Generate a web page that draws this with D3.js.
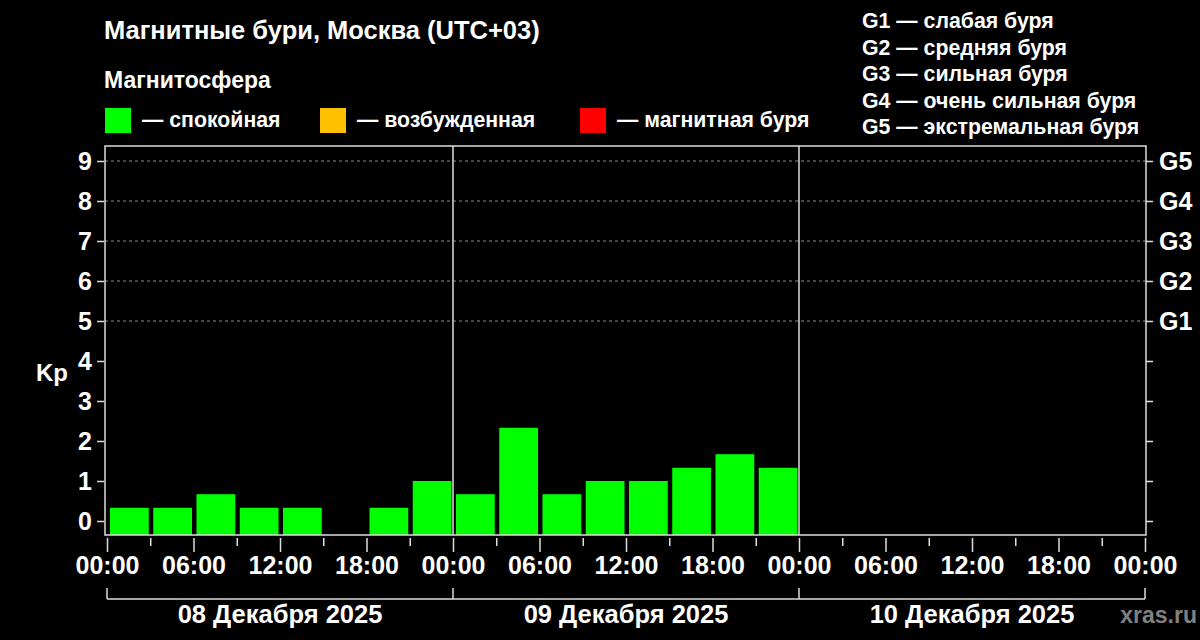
<!DOCTYPE html>
<html>
<head>
<meta charset="utf-8">
<script src="https://cdn.jsdelivr.net/npm/d3@7"></script>
<style>
  html, body { margin: 0; padding: 0; background: #000; }
  svg { display: block; font-family: "Liberation Sans", Arial, sans-serif; font-weight: bold; }
</style>
</head>
<body>
<div id="chart"></div>
<script>
// Kp by 3-hour slot, one array per day (null = no bar)
const days = ['08 Декабря 2025', '09 Декабря 2025', '10 Декабря 2025']
const kpDay1 = [0.33, 0.33, 0.67, 0.33, 0.33, null, 0.33, 1.0]
const kpDay2 = [0.67, 2.33, 0.67, 1.0, 1.0, 1.33, 1.67, 1.33]
const kpDay3 = [null, null, null, null, null, null, null, null]
const kpTicks = [0, 1, 2, 3, 4, 5, 6, 7, 8, 9]
const gLabels = ['G1', 'G2', 'G3', 'G4', 'G5']
const gLegend = ['G1 — слабая буря', 'G2 — средняя буря', 'G3 — сильная буря', 'G4 — очень сильная буря', 'G5 — экстремальная буря']
const states = ['— спокойная', '— возбужденная', '— магнитная буря']
const stateColors = ['#00ff00', '#ffc000', '#ff0000']
const hourTicks = d3.range(0, 73, 3)

const width = 1200, height = 640
const fLeft = 105, fRight = 1146, fTop = 146, fBottom = 535

const svg = d3.select('#chart').append('svg')
    .attr('width', width)
    .attr('height', height)

svg.append('rect').attr('width', width).attr('height', height).attr('fill', '#000')

const x = d3.scaleLinear().domain([0, 72]).range([107, 1145])
const y = d3.scaleLinear().domain([0, 9]).range([521, 161])

// titles
svg.append('text').attr('x', 104).attr('y', 39).attr('fill', '#fff')
    .style('font-size', '25.5px').text('Магнитные бури, Москва (UTC+03)')
svg.append('text').attr('x', 104).attr('y', 88).attr('fill', '#fff')
    .style('font-size', '23px').text('Магнитосфера')

// state legend
const legX = [105, 320, 580]
states.forEach((s, i) => {
    svg.append('rect').attr('x', legX[i]).attr('y', 108).attr('width', 26).attr('height', 25)
        .attr('fill', stateColors[i])
    svg.append('text').attr('x', legX[i] + 37).attr('y', 127).attr('fill', '#fff')
        .style('font-size', '21.3px').text(s)
})

// G legend
svg.append('g').selectAll('text').data(gLegend).enter().append('text')
    .attr('x', 862).attr('y', (d, i) => 28 + i * 26.5)
    .attr('fill', '#fff').style('font-size', '21.3px')
    .text(d => d)

// grid lines 5..9
svg.append('g').selectAll('line').data(kpTicks.filter(d => d >= 5)).enter().append('line')
    .attr('x1', fLeft).attr('x2', fRight)
    .attr('y1', d => y(d)).attr('y2', d => y(d))
    .attr('stroke', '#888').attr('stroke-width', 1).attr('stroke-dasharray', '3,3')

// bars
const all = [].concat(kpDay1, kpDay2, kpDay3)
const slotW = x(3) - x(0)
svg.append('g').selectAll('rect')
    .data(all.map((v, i) => ({v, i})).filter(d => d.v !== null && d.v > 0))
    .enter().append('rect')
    .attr('x', d => x(d.i * 3) + 3)
    .attr('width', slotW - 4.5)
    .attr('y', d => y(d.v))
    .attr('height', d => fBottom - y(d.v))
    .attr('fill', d => d.v < 4 ? stateColors[0] : d.v < 5 ? stateColors[1] : stateColors[2])

// day separators
svg.append('g').selectAll('line').data([1, 2]).enter().append('line')
    .attr('x1', d => x(d * 24)).attr('x2', d => x(d * 24))
    .attr('y1', fTop).attr('y2', fBottom)
    .attr('stroke', '#ddd').attr('stroke-width', 1.5)

// frame
svg.append('rect').attr('x', fLeft).attr('y', fTop).attr('width', fRight - fLeft).attr('height', fBottom - fTop)
    .attr('fill', 'none').attr('stroke', '#ddd').attr('stroke-width', 1.5)

// left axis
const yAxis = svg.append('g').attr('transform', `translate(${fLeft - 1},0)`)
    .call(d3.axisLeft(y).tickValues(kpTicks).tickSize(7).tickPadding(5).tickFormat(d3.format('d')))
yAxis.select('.domain').remove()

// right axis
const yAxisR = svg.append('g').attr('transform', `translate(${fRight},0)`)
    .call(d3.axisRight(y).tickValues(kpTicks).tickSize(7).tickPadding(6)
        .tickFormat(d => d >= 5 ? gLabels[d - 5] : ''))
yAxisR.select('.domain').remove()

// bottom axis
const xAxis = svg.append('g').attr('transform', `translate(0,${fBottom + 3})`)
    .call(d3.axisBottom(x).tickValues(hourTicks).tickSize(0).tickPadding(18)
        .tickFormat(d => d % 6 === 0 ? d3.format('02d')(d % 24) + ':00' : ''))
xAxis.select('.domain').remove()
xAxis.selectAll('.tick').append('line')
    .attr('y1', 0).attr('y2', d => d % 6 === 0 ? 14 : 8)

;[yAxis, yAxisR, xAxis].forEach(a => {
    a.selectAll('text').attr('fill', '#fff').style('font-size', '25px')
        .style('font-family', '"Liberation Sans", Arial, sans-serif').style('font-weight', 'bold')
    a.selectAll('line').attr('stroke', '#ddd').attr('stroke-width', 1.5)
})

// date brackets
const br = svg.append('g')
br.append('line').attr('x1', x(0)).attr('x2', x(72)).attr('y1', 599).attr('y2', 599)
    .attr('stroke', '#ddd').attr('stroke-width', 1.5)
br.selectAll('.bt').data([0, 24, 48, 72]).enter().append('line')
    .attr('x1', d => x(d)).attr('x2', d => x(d)).attr('y1', 588).attr('y2', 599)
    .attr('stroke', '#ddd').attr('stroke-width', 1.5)
br.selectAll('text').data(days).enter().append('text')
    .attr('x', (d, i) => x(i * 24 + 12)).attr('y', 623)
    .attr('text-anchor', 'middle').attr('fill', '#fff').style('font-size', '25.5px')
    .text(d => d)

// Kp label
svg.append('text').attr('x', 52).attr('y', 381).attr('text-anchor', 'middle')
    .attr('fill', '#fff').style('font-size', '24px').text('Kp')

svg.append('text').attr('x', 1197).attr('y', 623).attr('text-anchor', 'end')
    .attr('fill', '#808080').style('font-size', '23px').text('xras.ru')
</script>
</body>
</html>
